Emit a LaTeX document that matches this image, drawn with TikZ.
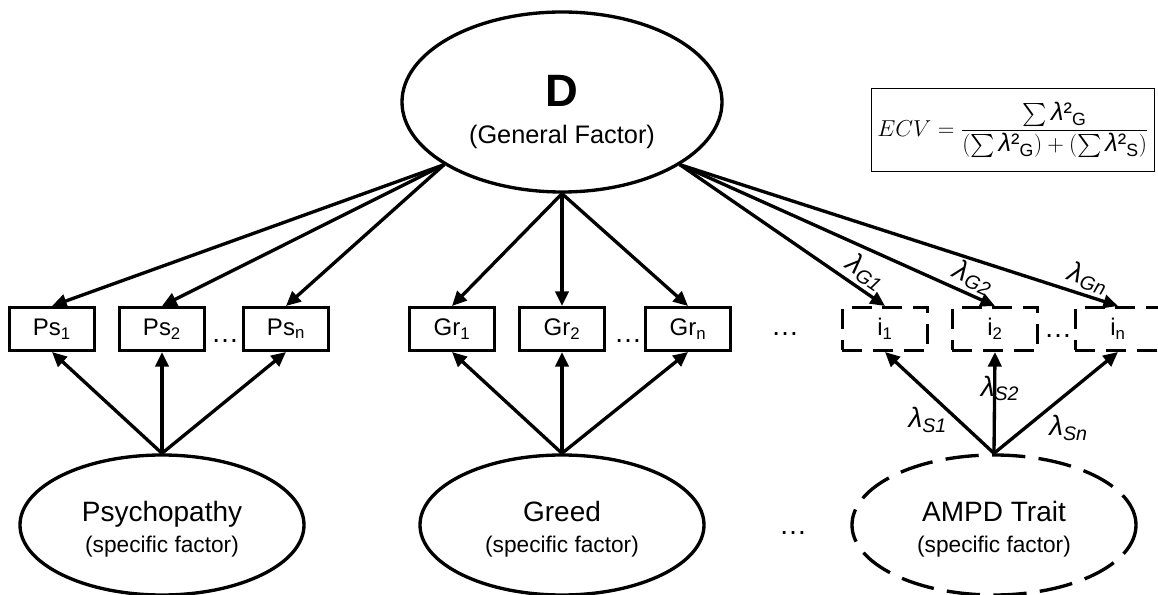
\documentclass[tikz,border=0pt]{standalone}
\usepackage{fontspec}
\setmainfont{Liberation Sans}
\usepackage{amsmath}
\usetikzlibrary{arrows.meta, positioning, shapes.geometric}

\begin{document}
\begin{tikzpicture}[x=0.75pt, y=-0.75pt, >={Triangle[length=11pt, width=10pt]}, line width=2.5pt,
        latent/.style={draw, ellipse, align=center, minimum width=213pt, minimum height=105pt, font=\fontsize{21}{25}\selectfont},
        obs/.style={draw, rectangle, minimum width=64pt, minimum height=32pt, inner sep=0pt, font=\fontsize{18}{20}\selectfont},
        obsdash/.style={obs, dash pattern=on 15pt off 8pt},
        lam/.style={font=\fontsize{21}{24}\selectfont\itshape, inner sep=1pt},
        dots/.style={font=\fontsize{21}{24}\selectfont, inner sep=0pt}]
    \useasboundingbox (0,0) rectangle (1158,595);

    % general factor and ECV
    \node[latent, minimum width=240pt, minimum height=135pt, font=\fontsize{34}{30}\selectfont\bfseries] (D) at (562,102) {\rule{0pt}{38pt}D\\[-2pt]{\fontsize{19}{22}\selectfont\mdseries (General Factor)}};
    \node[draw, line width=1.1pt, minimum width=212pt, minimum height=62pt, inner sep=1pt, font=\fontsize{19}{23}\selectfont] (ecv) at (1013,130)
        {$ECV = \dfrac{\sum\textit{λ}\text{²}_{\text{G}}}{(\sum\textit{λ}\text{²}_{\text{G}})+(\sum\textit{λ}\text{²}_{\text{S}})}$};

    % indicators
    \node[obs] (Ps1) at (52,329) {Ps\textsubscript{1}};
    \node[obs] (Ps2) at (162,329) {Ps\textsubscript{2}};
    \node[obs] (Psn) at (286,329) {Ps\textsubscript{n}};
    \node[obs] (Gr1) at (452,329) {Gr\textsubscript{1}};
    \node[obs] (Gr2) at (562,329) {Gr\textsubscript{2}};
    \node[obs] (Grn) at (688,329) {Gr\textsubscript{n}};
    \node[obsdash] (i1) at (885,329) {i\textsubscript{1}};
    \node[obsdash] (i2) at (995,329) {i\textsubscript{2}};
    \node[obsdash] (in) at (1118,329) {i\textsubscript{n}};

    \node[dots] (dPs) at (225,341) {\dots};
    \node[dots] (dGr) at (628,341) {\dots};
    \node[dots] (dMid) at (785,334) {\dots};
    \node[dots] (di) at (1058,336) {\dots};

    % specific factors
    \node[latent] (Psy) at (162,525) {\rule{0pt}{22pt}Psychopathy\\[-2pt]{\fontsize{17}{19}\selectfont (specific factor)}};
    \node[latent] (Gre) at (562,525) {\rule{0pt}{22pt}Greed\\[-2pt]{\fontsize{17}{19}\selectfont (specific factor)}};
    \node[latent, dash pattern=on 25pt off 10pt] (AMPD) at (994,525) {\rule{0pt}{22pt}AMPD Trait\\[-2pt]{\fontsize{17}{19}\selectfont (specific factor)}};
    \node[dots] (dLow) at (793,533) {\dots};

    \path[->]
        (D.208) edge (Ps1.north)
        (D.208) edge (Ps2.north)
        (D.208) edge (Psn.north)
        (D.south) edge (Gr1.north)
        (D.south) edge (Gr2.north)
        (D.south) edge (Grn.north)
        (D.-28) edge node[lam, sloped, above=1.5pt, pos=0.86] {λ\textsubscript{G1}} (i1.north)
        (D.-28) edge node[lam, sloped, above=1.5pt, pos=0.91] {λ\textsubscript{G2}} (i2.north)
        (D.-28) edge node[lam, sloped, above=1.5pt, pos=0.92] {λ\textsubscript{Gn}} (in.north);

    \path[->]
        (Psy.north) edge (Ps1.south)
        (Psy.north) edge (Ps2.south)
        (Psy.north) edge (Psn.south)
        (Gre.north) edge (Gr1.south)
        (Gre.north) edge (Gr2.south)
        (Gre.north) edge (Grn.south)
        (AMPD.north) edge node[lam, left=6pt, pos=0.33] {λ\textsubscript{S1}} (i1.south)
        (AMPD.north) edge node[lam, xshift=4pt, pos=0.64] {λ\textsubscript{S2}} (i2.south)
        (AMPD.north) edge node[lam, right=16pt, pos=0.25] {λ\textsubscript{Sn}} (in.south);
\end{tikzpicture}
\end{document}
